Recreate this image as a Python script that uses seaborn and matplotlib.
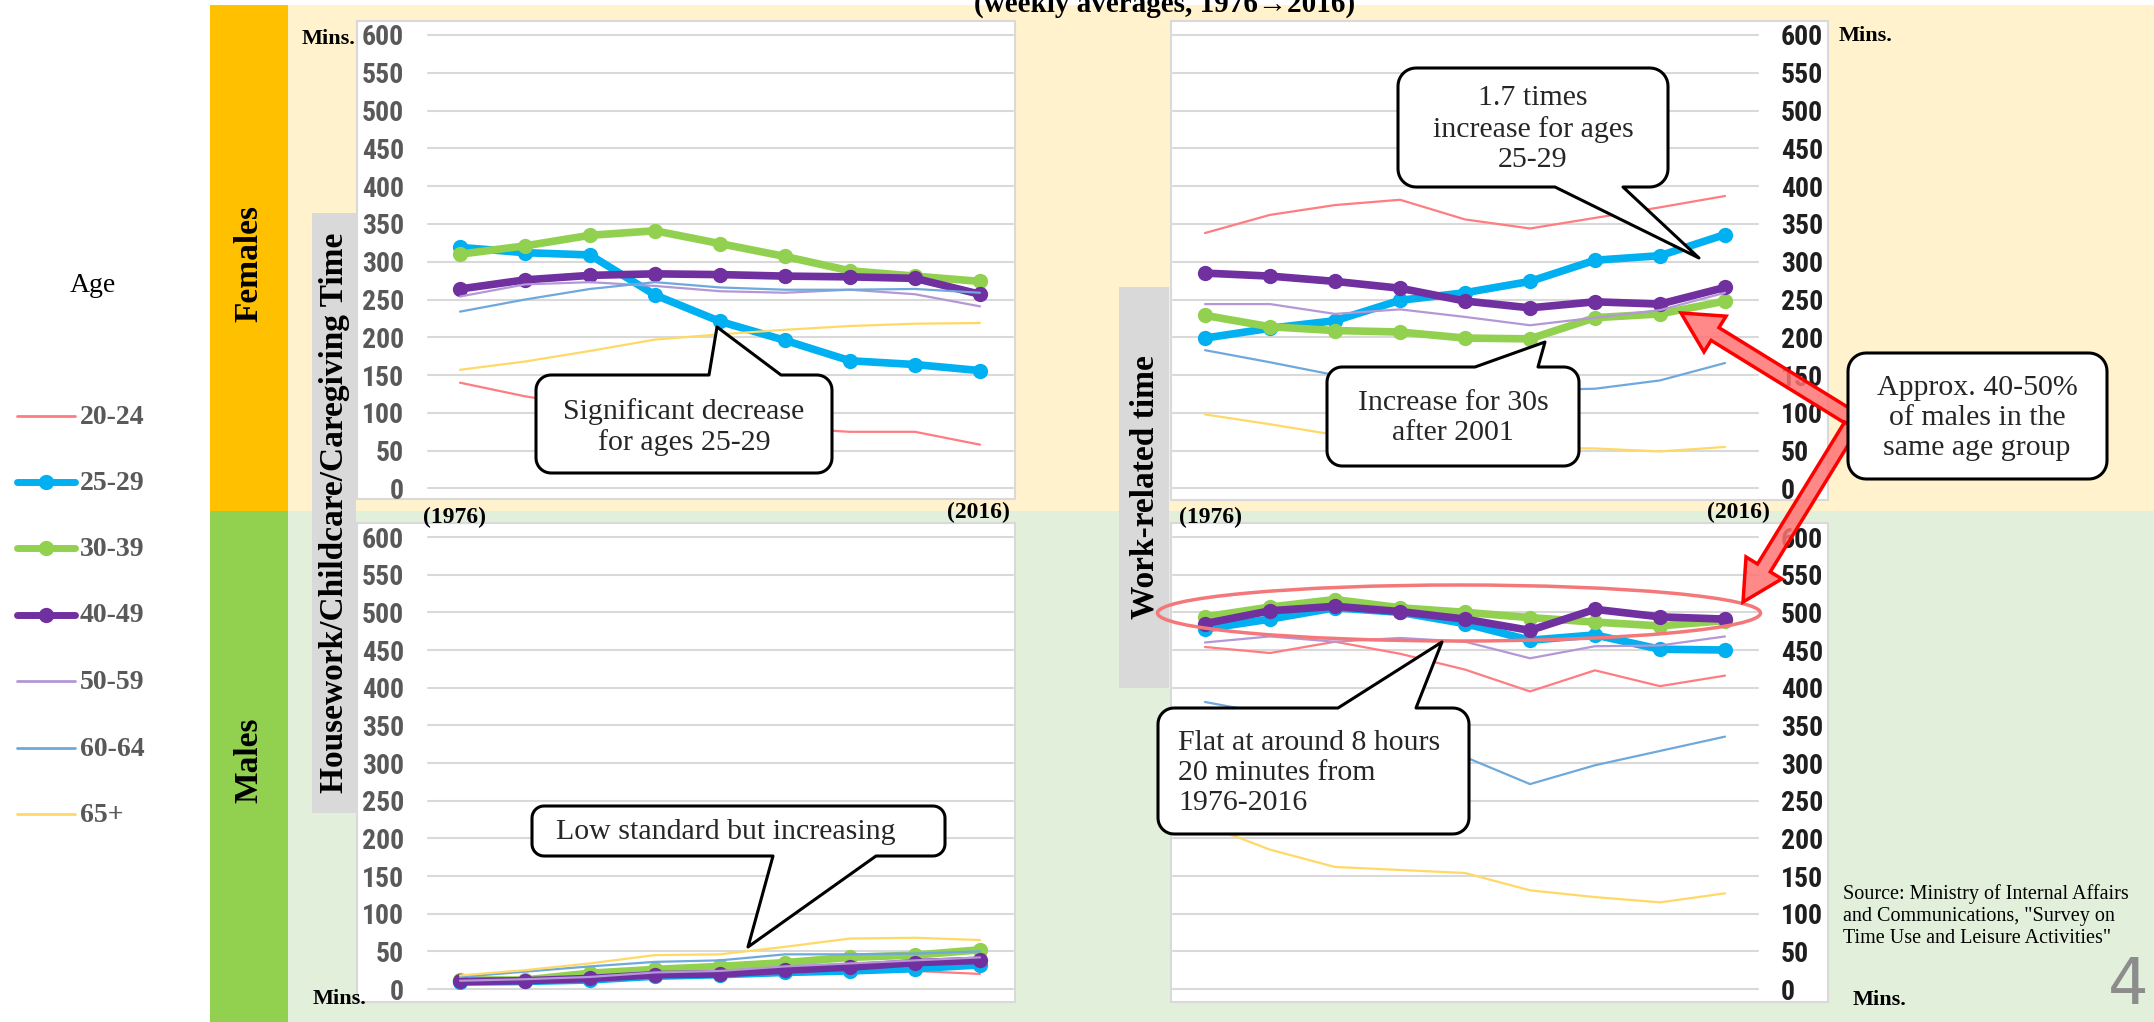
import numpy as np
import pandas as pd
import matplotlib
matplotlib.use("Agg")
import matplotlib.pyplot as plt
import seaborn as sns
from matplotlib import font_manager as fm
from matplotlib.patches import Rectangle, Polygon, Ellipse, FancyArrow

# ---------------------------------------------------------------- data
years = ["1976", "1981", "1986", "1991", "1996", "2001", "2006", "2011", "2016"]
age_groups = ["20-24", "25-29", "30-39", "40-49", "50-59", "60-64", "65+"]
y_ticks = [0, 50, 100, 150, 200, 250, 300, 350, 400, 450, 500, 550, 600]

# Females - housework / childcare / caregiving (mins)
f_house_20_24 = [140, 122, 108, 96, 86, 80, 75, 75, 58]
f_house_25_29 = [319, 312, 309, 256, 221, 196, 169, 164, 156]
f_house_30_39 = [310, 321, 335, 341, 324, 307, 288, 281, 274]
f_house_40_49 = [264, 276, 282, 284, 283, 281, 280, 278, 257]
f_house_50_59 = [254, 270, 273, 268, 261, 259, 263, 257, 241]
f_house_60_64 = [234, 250, 264, 273, 266, 263, 263, 264, 259]
f_house_65p = [157, 168, 182, 197, 204, 210, 215, 218, 219]

# Females - work-related time (mins)
f_work_20_24 = [338, 362, 375, 382, 356, 344, 358, 372, 387]
f_work_25_29 = [199, 212, 222, 249, 259, 274, 302, 308, 336]
f_work_30_39 = [229, 214, 209, 207, 199, 198, 226, 231, 248]
f_work_40_49 = [285, 281, 274, 265, 248, 239, 247, 244, 266]
f_work_50_59 = [244, 244, 231, 237, 227, 216, 226, 236, 259]
f_work_60_64 = [183, 167, 150, 142, 136, 130, 132, 143, 166]
f_work_65p = [98, 85, 71, 62, 57, 54, 53, 49, 55]

# Males - housework / childcare / caregiving (mins)
m_house_20_24 = [8, 9, 11, 15, 17, 19, 22, 24, 20]
m_house_25_29 = [9, 10, 12, 17, 19, 22, 24, 27, 32]
m_house_30_39 = [12, 12, 21, 26, 30, 35, 42, 45, 52]
m_house_40_49 = [10, 11, 14, 19, 20, 25, 29, 35, 38]
m_house_50_59 = [11, 13, 16, 22, 24, 30, 34, 38, 42]
m_house_60_64 = [16, 23, 30, 36, 38, 46, 46, 47, 50]
m_house_65p = [18, 25, 34, 45, 46, 56, 67, 68, 65]

# Males - work-related time (mins)
m_work_20_24 = [454, 446, 461, 445, 424, 395, 423, 402, 416]
m_work_25_29 = [478, 491, 506, 500, 485, 463, 470, 451, 450]
m_work_30_39 = [494, 507, 517, 506, 500, 493, 487, 482, 489]
m_work_40_49 = [485, 502, 508, 501, 491, 476, 504, 494, 491]
m_work_50_59 = [460, 468, 461, 466, 461, 439, 455, 456, 468]
m_work_60_64 = [381, 365, 345, 326, 308, 272, 297, 316, 335]
m_work_65p = [218, 185, 162, 158, 154, 131, 122, 115, 127]

series = {
    ("Females", "house"): [f_house_20_24, f_house_25_29, f_house_30_39, f_house_40_49,
                           f_house_50_59, f_house_60_64, f_house_65p],
    ("Females", "work"): [f_work_20_24, f_work_25_29, f_work_30_39, f_work_40_49,
                          f_work_50_59, f_work_60_64, f_work_65p],
    ("Males", "house"): [m_house_20_24, m_house_25_29, m_house_30_39, m_house_40_49,
                         m_house_50_59, m_house_60_64, m_house_65p],
    ("Males", "work"): [m_work_20_24, m_work_25_29, m_work_30_39, m_work_40_49,
                        m_work_50_59, m_work_60_64, m_work_65p],
}

records = []
for (sex, act), rows in series.items():
    for age, vals in zip(age_groups, rows):
        for i, (yr, v) in enumerate(zip(years, vals)):
            records.append(dict(sex=sex, activity=act, age=age, year=yr, pos=i, minutes=v))
df = pd.DataFrame(records)

# ---------------------------------------------------------------- style
sns.set_theme(style="white")
SERIF = ["Liberation Serif", "DejaVu Serif"]
plt.rcParams["font.family"] = SERIF

avail = {f.name for f in fm.fontManager.ttflist}
tick_font = dict(family=["Liberation Sans", "DejaVu Sans"], weight="bold", size=18)
for cand in ["Liberation Sans Narrow", "Arial Narrow", "Roboto Condensed", "DejaVu Sans Condensed"]:
    if cand in avail:
        tick_font = dict(family=[cand, "DejaVu Sans"], weight="bold", size=20)
        break
else:
    for f in fm.fontManager.ttflist:
        if str(f.stretch) in ("condensed", "semi-condensed") and "Sans" in f.name:
            tick_font = dict(family=[f.name], stretch=f.stretch, weight="bold", size=20)
            break

AGE_STYLE = {
    "20-24": dict(color="#FF7C80", linewidth=1.6),
    "25-29": dict(color="#00B0F0", linewidth=5.5, marker="o", markersize=11, markeredgewidth=0),
    "30-39": dict(color="#92D050", linewidth=5.5, marker="o", markersize=11, markeredgewidth=0),
    "40-49": dict(color="#7030A0", linewidth=5.5, marker="o", markersize=11, markeredgewidth=0),
    "50-59": dict(color="#B497D6", linewidth=1.6),
    "60-64": dict(color="#6FA8DC", linewidth=1.6),
    "65+": dict(color="#FFD966", linewidth=1.6),
}

W, H = 2154, 1022
fig = plt.figure(figsize=(W / 100, H / 100), dpi=100)
fig.patch.set_facecolor("white")


def fig_rect(x0, y0, x1, y1):
    return [x0 / W, 1 - y1 / H, (x1 - x0) / W, (y1 - y0) / H]


# background layer in pixel coordinates
bg = fig.add_axes([0, 0, 1, 1], zorder=0)
bg.set_xlim(0, W)
bg.set_ylim(H, 0)
bg.axis("off")

bg.add_patch(Rectangle((210, 5), 78, 506, color="#FFC000", lw=0))
bg.add_patch(Rectangle((210, 511), 78, 511, color="#92D050", lw=0))
bg.add_patch(Rectangle((288, 5), W - 288, 506, color="#FFF2CC", lw=0))
bg.add_patch(Rectangle((288, 511), W - 288, 511, color="#E2EFDA", lw=0))
for (x, y, w, h) in [(357, 21, 658, 478), (357, 523, 658, 479),
                     (1171, 21, 657, 479), (1171, 523, 657, 479)]:
    bg.add_patch(Rectangle((x, y), w, h, fc="white", ec="#D9D9D9", lw=1.5))
bg.add_patch(Rectangle((312, 213), 44, 600, color="#D9D9D9", lw=0))
bg.add_patch(Rectangle((1119, 287), 50, 401, color="#D9D9D9", lw=0))

bg.text(249, 264, "Females", rotation=90, ha="center", va="center",
        fontsize=24, fontweight="bold", color="black")
bg.text(249, 760, "Males", rotation=90, ha="center", va="center",
        fontsize=24, fontweight="bold", color="black")
bg.text(334, 513, "Housework/Childcare/Caregiving Time", rotation=90, ha="center",
        va="center", fontsize=24, fontweight="bold", color="black")
bg.text(1145, 487, "Work-related time", rotation=90, ha="center", va="center",
        fontsize=24, fontweight="bold", color="black")

# legend
bg.text(93, 286, "Age", ha="center", va="center", fontsize=20, color="black")
leg_y = [416, 482, 548.5, 615, 681.5, 748, 814.5]
for age, ly in zip(age_groups, leg_y):
    st = AGE_STYLE[age]
    bg.plot([17, 75], [ly, ly], color=st["color"],
            linewidth=2.0 if "marker" not in st else 5.0,
            solid_capstyle="round")
    if "marker" in st:
        bg.plot([46], [ly], marker="o", markersize=11, color=st["color"], markeredgewidth=0)
    bg.text(80, ly + 1, age, ha="left", va="center", fontsize=20,
            fontweight="bold", color="#595959")

# ---------------------------------------------------------------- panels
LEFT_X, RIGHT_X = (427.5, 1012.5), (1172.5, 1757.5)
TOP_Y, BOT_Y = (35, 488.5), (537, 989)
panels = [("Females", "house", LEFT_X, TOP_Y, "left"),
          ("Females", "work", RIGHT_X, TOP_Y, "right"),
          ("Males", "house", LEFT_X, BOT_Y, "left"),
          ("Males", "work", RIGHT_X, BOT_Y, "right")]

for sex, act, (x0, x1), (y0, y1), side in panels:
    ax = fig.add_axes(fig_rect(x0, y0, x1, y1), zorder=2)
    ax.set_facecolor("none")
    sub = df[(df.sex == sex) & (df.activity == act)]
    for age in age_groups:
        d = sub[sub.age == age]
        sns.lineplot(data=d, x="pos", y="minutes", ax=ax, legend=False,
                     sort=False, estimator=None, **AGE_STYLE[age])
    ax.set_xlim(-0.5, 8.5)
    ax.set_ylim(0, 600)
    ax.set_xticks([])
    ax.set_yticks(y_ticks)
    ax.set_yticklabels([str(t) for t in y_ticks], **tick_font)
    ax.set_xlabel("")
    ax.set_ylabel("")
    ax.grid(axis="y", color="#D9D9D9", linewidth=1.5)
    ax.set_axisbelow(True)
    for gl in ax.get_ygridlines():
        gl.set_clip_on(False)
    for s in ax.spines.values():
        s.set_visible(False)
    if side == "left":
        ax.yaxis.tick_left()
        ax.tick_params(axis="y", length=0, pad=17, labelcolor="#595959")
    else:
        ax.yaxis.tick_right()
        ax.tick_params(axis="y", length=0, pad=17, labelcolor="#1F1F1F")

# ---------------------------------------------------------------- overlay
ov = fig.add_axes([0, 0, 1, 1], zorder=5)
ov.set_xlim(0, W)
ov.set_ylim(H, 0)
ov.axis("off")
ov.patch.set_alpha(0)

ov.text(1165, 12, "(weekly averages, 1976\u21922016)", ha="center", va="baseline",
        fontsize=21, fontweight="bold", color="black")

for x, y, t in [(329, 39, "Mins."), (340, 999, "Mins."), (1866, 36, "Mins."), (1880, 1000, "Mins.")]:
    ov.text(x, y, t, ha="center", va="center", fontsize=16, fontweight="bold", color="black")

for x, y, t in [(454, 517, "(1976)"), (978, 512, "(2016)"),
                (1211, 517, "(1976)"), (1738, 512, "(2016)")]:
    ov.text(x, y, t, ha="center", va="center", fontsize=17, fontweight="bold", color="black")

ov.add_patch(Ellipse((1459, 613), 603, 56, fill=False, ec="#F4787A", lw=2.5))


def bubble(x0, y0, x1, y1, r=15, side=None, base=None, tip=None, n=10):
    pts = []

    def arc(cx, cy, a0, a1):
        for t in np.linspace(np.radians(a0), np.radians(a1), n):
            pts.append((cx + r * np.cos(t), cy + r * np.sin(t)))

    arc(x0 + r, y0 + r, 180, 270)
    if side == "top":
        pts.extend([(base[0], y0), tip, (base[1], y0)])
    arc(x1 - r, y0 + r, 270, 360)
    arc(x1 - r, y1 - r, 0, 90)
    if side == "bottom":
        pts.extend([(base[1], y1), tip, (base[0], y1)])
    arc(x0 + r, y1 - r, 90, 180)
    ov.add_patch(Polygon(pts, closed=True, fc="white", ec="black", lw=2.2, joinstyle="round"))


CALL_FS = 21.5
bubble(536, 375, 832, 473, side="top", base=(709, 781), tip=(717, 327))
ov.text(684, 427, "Significant decrease\nfor ages 25-29", ha="center", va="center",
        fontsize=CALL_FS, linespacing=1.2)

bubble(1398, 68, 1668, 187, r=18, side="bottom", base=(1555, 1623), tip=(1699, 258))
ov.text(1533, 129, "1.7 times\nincrease for ages\n25-29", ha="center", va="center",
        fontsize=CALL_FS, linespacing=1.2)

bubble(1327, 367, 1579, 466, side="top", base=(1475, 1538), tip=(1545, 342))
ov.text(1453, 418, "Increase for 30s\nafter 2001", ha="center", va="center",
        fontsize=CALL_FS, linespacing=1.2)

bubble(532, 806, 945, 856, r=12, side="bottom", base=(773, 876), tip=(748, 947))
ov.text(556, 832, "Low standard but increasing", ha="left", va="center", fontsize=CALL_FS)

bubble(1158, 708, 1469, 834, r=16, side="top", base=(1338, 1416), tip=(1442, 642))
ov.text(1178, 773, "Flat at around 8 hours\n20 minutes from\n1976-2016", ha="left",
        va="center", fontsize=CALL_FS, linespacing=1.2)

# red block arrows from the comparison note
for (sx, sy, ex, ey) in [(1851, 418, 1681, 313), (1851, 426, 1743, 602)]:
    ov.add_patch(FancyArrow(sx, sy, ex - sx, ey - sy, width=15, head_width=42,
                            head_length=40, length_includes_head=True,
                            fc=(1.0, 0.45, 0.45, 0.85), ec="#FF0000", lw=2.5))

bubble(1848, 353, 2107, 479, r=18)
ov.text(1977, 418, "Approx. 40-50%\nof males in the\nsame age group", ha="center",
        va="center", fontsize=CALL_FS, linespacing=1.2)

ov.text(1843, 916, "Source: Ministry of Internal Affairs\nand Communications, \"Survey on\n"
        "Time Use and Leisure Activities\"", ha="left", va="center", fontsize=14.5,
        linespacing=1.2, color="black")

ov.text(2128, 986, "4", ha="center", va="center", fontsize=46, color="#8C8C8C",
        family=["DejaVu Sans"], fontweight="normal")

fig.savefig("out.png", dpi=100)
